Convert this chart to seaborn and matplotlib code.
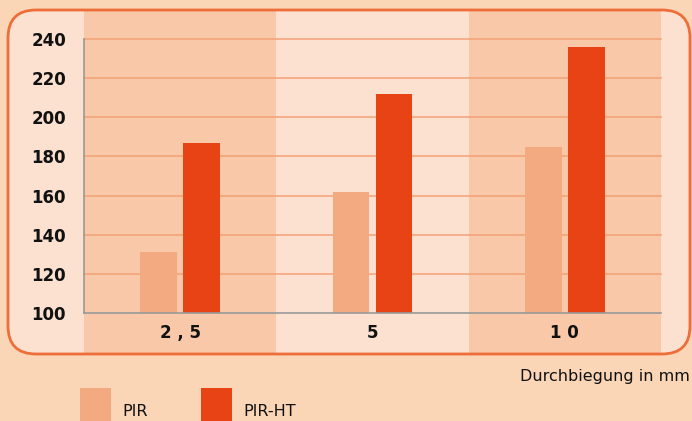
import pandas as pd
import seaborn as sns
import matplotlib.pyplot as plt
from matplotlib.patches import FancyBboxPatch, Rectangle
from matplotlib.transforms import blended_transform_factory

# data
durchbiegung = ["2 , 5", "5", "1 0"]
pir = [131, 162, 185]
pir_ht = [187, 212, 236]
y_ticks = [100, 120, 140, 160, 180, 200, 220, 240]

COLOURS = {"PIR": "#F4AA80", "PIR-HT": "#E84315"}
BG_OUTER = "#FAD5B6"
BG_PANEL = "#FCE1D0"
BG_BAND = "#F8C8A8"
BORDER = "#EE6E3A"
GRID = "#F4A176"

df = pd.DataFrame({
    "Durchbiegung": durchbiegung * 2,
    "Wert": pir + pir_ht,
    "Typ": ["PIR"] * len(pir) + ["PIR-HT"] * len(pir_ht),
})

W, H = 692, 421
fig = plt.figure(figsize=(W / 100, H / 100), dpi=100, facecolor=BG_OUTER)

# rounded panel (pixel coords)
px, py0, pw, ph = 8, H - 354, 682, 344
panel = FancyBboxPatch((px, py0), pw, ph, boxstyle="round,pad=0,rounding_size=28",
                       transform=None, facecolor=BG_PANEL, edgecolor="none", zorder=-2)
fig.patches.append(panel)

ax = fig.add_axes([84 / W, (H - 313) / H, (661 - 84) / W, (313 - 39) / H])
ax.patch.set_alpha(0)

# alternating column bands, extending above and below the axes
trans = blended_transform_factory(ax.transData, ax.transAxes)
band_lo = (313 - 353) / 274
band_hi = (313 - 11) / 274
for i in range(len(durchbiegung)):
    if i % 2 == 0:
        ax.add_patch(Rectangle((i - 0.5, band_lo), 1, band_hi - band_lo, transform=trans,
                               facecolor=BG_BAND, edgecolor="none", clip_on=False, zorder=0))

for t in y_ticks[1:]:
    ax.axhline(t, color=GRID, lw=1.1, zorder=1, clip_on=False)

sns.barplot(data=df, x="Durchbiegung", y="Wert", hue="Typ", palette=COLOURS,
            width=0.446, gap=0.15, saturation=1, legend=False, ax=ax, zorder=2)

ax.set_xlim(-0.5, 2.5)
ax.set_ylim(100, 240)
ax.set_yticks(y_ticks)
ax.set_xlabel("")
ax.set_ylabel("")
ax.tick_params(length=0)
ax.tick_params(axis="y", pad=13, labelsize=12)
ax.tick_params(axis="x", pad=8, labelsize=12)
for lab in ax.get_yticklabels() + ax.get_xticklabels():
    lab.set_fontweight("bold")
    lab.set_color("#111111")
for s in ["top", "right"]:
    ax.spines[s].set_visible(False)
for s in ["left", "bottom"]:
    ax.spines[s].set_color("#999999")
    ax.spines[s].set_linewidth(1.2)
    ax.spines[s].set_zorder(3)

# panel border on top
border = FancyBboxPatch((px, py0), pw, ph, boxstyle="round,pad=0,rounding_size=28",
                        transform=None, facecolor="none", edgecolor=BORDER, lw=2, zorder=5)
fig.patches.append(border)

fig.text(690 / W, 1 - 376 / H, "Durchbiegung in mm", ha="right", va="center",
         fontsize=11.5, color="#111111")

# legend
for x0, name in [(80, "PIR"), (201, "PIR-HT")]:
    fig.patches.append(Rectangle((x0, 0), 31, H - 388, transform=None,
                                 facecolor=COLOURS[name], edgecolor="none"))
    fig.text((x0 + 42) / W, 1 - 411 / H, name, ha="left", va="center",
             fontsize=11.5, color="#111111")

fig.savefig("out.png", dpi=100, facecolor=BG_OUTER)
